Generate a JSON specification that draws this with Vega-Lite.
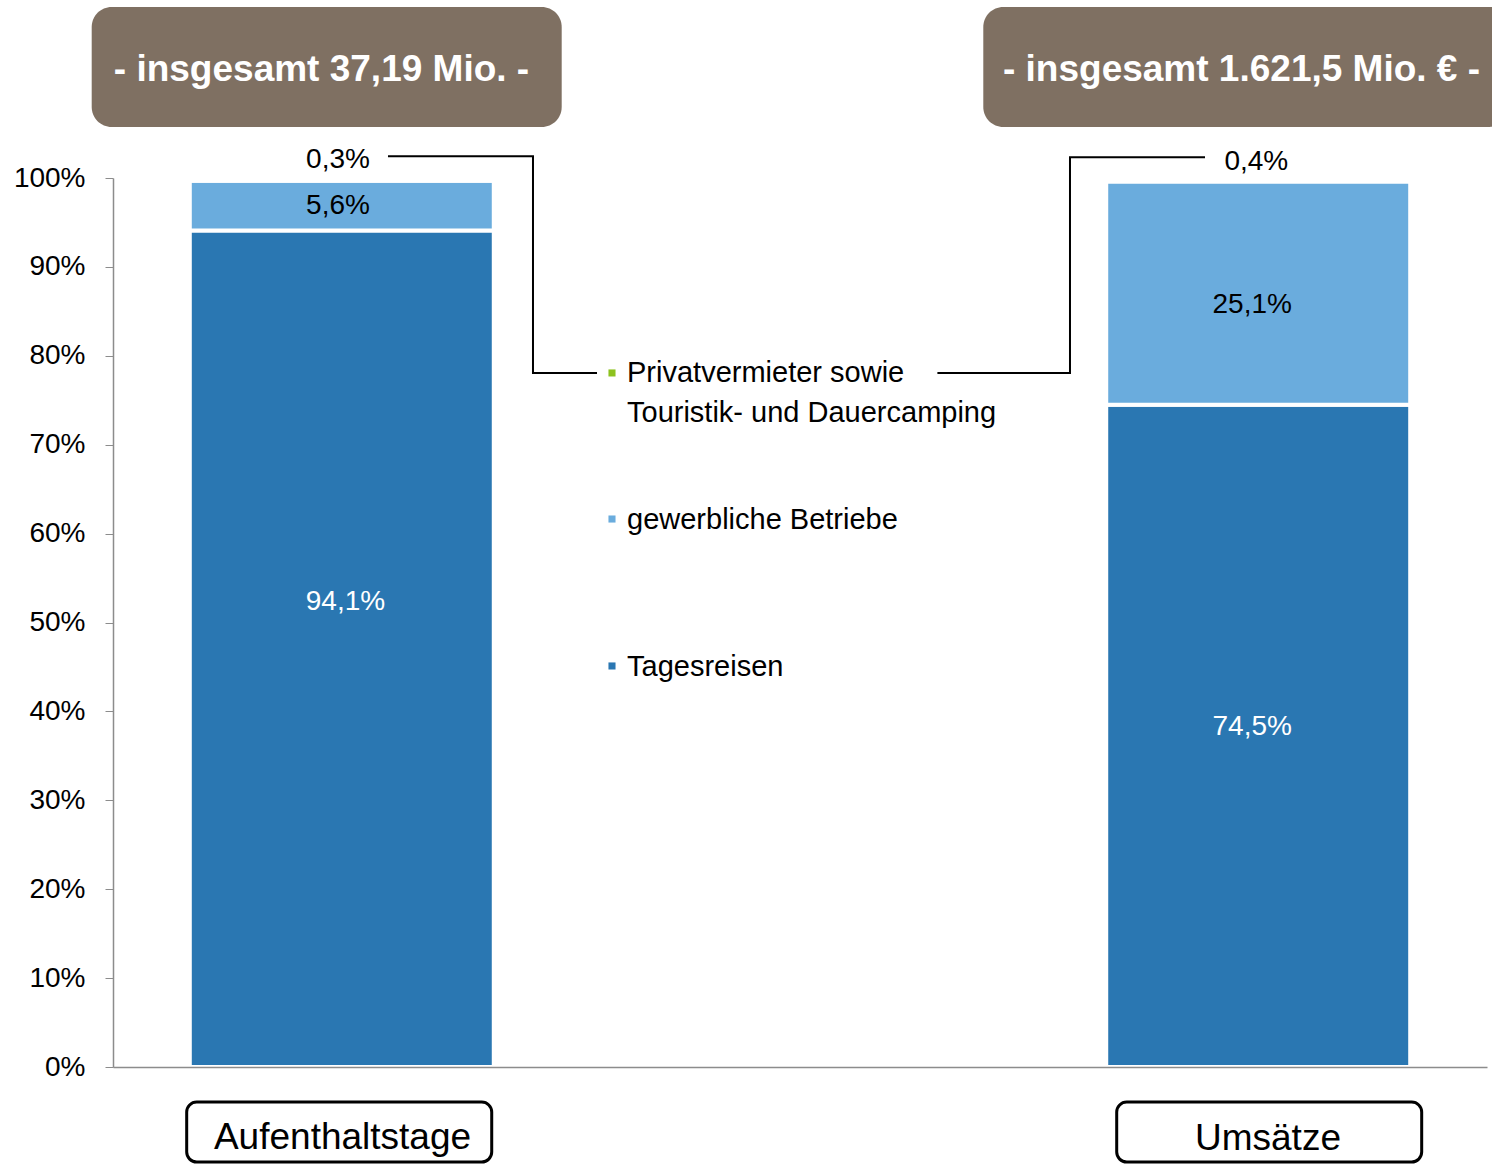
{
  "$schema": "https://vega.github.io/schema/vega-lite/v6.json",
  "width": 1374,
  "height": 889,
  "autosize": {"type": "none"},
  "padding": {"left": 113, "top": 178, "right": 5, "bottom": 97},
  "background": "white",
  "config": {
    "view": {"stroke": null},
    "font": "Liberation Sans",
    "text": {"font": "Liberation Sans"}
  },
  "datasets": {
    "anteile": [
      {"Kennzahl": "Aufenthaltstage", "Art": "Tagesreisen", "Rang": 1, "Anteil": 94.1},
      {"Kennzahl": "Aufenthaltstage", "Art": "gewerbliche Betriebe", "Rang": 2, "Anteil": 5.6},
      {"Kennzahl": "Aufenthaltstage", "Art": "Privatvermieter sowie Touristik- und Dauercamping", "Rang": 3, "Anteil": 0.3},
      {"Kennzahl": "Umsätze", "Art": "Tagesreisen", "Rang": 1, "Anteil": 74.5},
      {"Kennzahl": "Umsätze", "Art": "gewerbliche Betriebe", "Rang": 2, "Anteil": 25.1},
      {"Kennzahl": "Umsätze", "Art": "Privatvermieter sowie Touristik- und Dauercamping", "Rang": 3, "Anteil": 0.4}
    ],
    "werte": [
      {"Art": "Privatvermieter sowie Touristik- und Dauercamping", "Text": "0,3%", "x": 0.4913, "y": 101.09},
      {"Art": "gewerbliche Betriebe", "Text": "5,6%", "x": 0.4913, "y": 95.9},
      {"Art": "Tagesreisen", "Text": "94,1%", "x": 0.5076, "y": 51.45},
      {"Art": "Privatvermieter sowie Touristik- und Dauercamping", "Text": "0,4%", "x": 2.4963, "y": 100.9},
      {"Art": "gewerbliche Betriebe", "Text": "25,1%", "x": 2.4874, "y": 84.8},
      {"Art": "Tagesreisen", "Text": "74,5%", "x": 2.4874, "y": 37.4}
    ],
    "kopf": [
      {"Text": "- insgesamt 37,19 Mio. -", "x0": -0.0465, "x1": 0.9797, "y0": 105.74, "y1": 119.24, "tx": 0.4552, "ty": 110.9},
      {"Text": "- insgesamt 1.621,5 Mio. € -", "x0": 1.9002, "x1": 3.05, "y0": 105.74, "y1": 119.24, "tx": 2.464, "ty": 110.9}
    ],
    "fuss": [
      {"Text": "Aufenthaltstage", "x0": 0.1609, "x1": 0.8269, "y0": -10.69, "y1": -3.94, "tx": 0.5011, "ty": -9.25},
      {"Text": "Umsätze", "x0": 2.1915, "x1": 2.8574, "y0": -10.69, "y1": -3.94, "tx": 2.5218, "ty": -9.3}
    ],
    "linien": [
      {"Linie": "links", "Punkt": 1, "x": 0.6004, "y": 102.45},
      {"Linie": "links", "Punkt": 2, "x": 0.917, "y": 102.45},
      {"Linie": "links", "Punkt": 3, "x": 0.917, "y": 78.07},
      {"Linie": "links", "Punkt": 4, "x": 1.0568, "y": 78.07},
      {"Linie": "rechts", "Punkt": 1, "x": 2.3843, "y": 102.33},
      {"Linie": "rechts", "Punkt": 2, "x": 2.0895, "y": 102.33},
      {"Linie": "rechts", "Punkt": 3, "x": 2.0895, "y": 78.07},
      {"Linie": "rechts", "Punkt": 4, "x": 1.8, "y": 78.07}
    ],
    "legende": [
      {"Art": "Privatvermieter sowie Touristik- und Dauercamping", "Bezeichnung": "Privatvermieter sowie\nTouristik- und Dauercamping", "mx": 1.0895, "my": 78.07, "tx": 1.1223, "ty": 77.1},
      {"Art": "gewerbliche Betriebe", "Bezeichnung": "gewerbliche Betriebe", "mx": 1.0895, "my": 61.64, "tx": 1.1223, "ty": 60.5},
      {"Art": "Tagesreisen", "Bezeichnung": "Tagesreisen", "mx": 1.0895, "my": 45.11, "tx": 1.1223, "ty": 44.0}
    ]
  },
  "resolve": {"scale": {"x": "independent"}, "axis": {"x": "independent"}},
  "layer": [
    {
      "data": {"name": "anteile"},
      "mark": {"type": "bar", "stroke": "white", "strokeWidth": 4},
      "encoding": {
        "x": {
          "field": "Kennzahl", "type": "nominal",
          "sort": ["Aufenthaltstage", "Umsätze"],
          "scale": {"paddingInner": 0.6683, "paddingOuter": 0.0838},
          "axis": {"labels": false, "ticks": false, "title": null, "domainColor": "#8c8c8c", "domainWidth": 1.5, "zindex": 1}
        },
        "y": {
          "field": "Anteil", "type": "quantitative", "stack": "zero",
          "scale": {"domain": [0, 100], "nice": false},
          "axis": {
            "title": null, "grid": false,
            "values": [0, 10, 20, 30, 40, 50, 60, 70, 80, 90, 100],
            "labelExpr": "datum.value + '%'",
            "tickSize": 8, "tickColor": "#8c8c8c", "domainColor": "#8c8c8c", "domainWidth": 1.5,
            "labelFontSize": 28, "labelColor": "black", "labelPadding": 20,
            "labelFont": "Liberation Sans", "labelFlush": false, "labelOverlap": false, "zindex": 1
          }
        },
        "color": {
          "field": "Art", "type": "nominal",
          "scale": {
            "domain": ["Privatvermieter sowie Touristik- und Dauercamping", "gewerbliche Betriebe", "Tagesreisen"],
            "range": ["#8dc21f", "#6aacdd", "#2a77b2"]
          },
          "legend": null
        },
        "order": {"field": "Rang", "type": "quantitative"}
      }
    },
    {
      "layer": [
        {
          "data": {"name": "kopf"},
          "mark": {"type": "rect", "cornerRadius": 20, "fill": "#7f7062"},
          "encoding": {
            "x": {"field": "x0", "type": "quantitative", "scale": {"domain": [0, 3], "nice": false, "zero": false}, "axis": null},
            "x2": {"field": "x1"},
            "y": {"field": "y0", "type": "quantitative", "scale": {"domain": [0, 100], "nice": false}, "title": null},
            "y2": {"field": "y1"}
          }
        },
        {
          "data": {"name": "kopf"},
          "mark": {"type": "text", "font": "Liberation Sans", "fontWeight": "bold", "fontSize": 37, "fill": "white", "align": "center", "baseline": "alphabetic"},
          "encoding": {
            "x": {"field": "tx", "type": "quantitative", "axis": null},
            "y": {"field": "ty", "type": "quantitative", "title": null},
            "text": {"field": "Text"}
          }
        },
        {
          "data": {"name": "fuss"},
          "mark": {"type": "rect", "cornerRadius": 10, "fill": "white", "stroke": "black", "strokeWidth": 3},
          "encoding": {
            "x": {"field": "x0", "type": "quantitative", "axis": null},
            "x2": {"field": "x1"},
            "y": {"field": "y0", "type": "quantitative", "title": null},
            "y2": {"field": "y1"}
          }
        },
        {
          "data": {"name": "fuss"},
          "mark": {"type": "text", "font": "Liberation Sans", "fontSize": 37, "fill": "black", "align": "center", "baseline": "alphabetic"},
          "encoding": {
            "x": {"field": "tx", "type": "quantitative", "axis": null},
            "y": {"field": "ty", "type": "quantitative", "title": null},
            "text": {"field": "Text"}
          }
        },
        {
          "data": {"name": "werte"},
          "mark": {"type": "text", "font": "Liberation Sans", "fontSize": 28, "align": "center", "baseline": "alphabetic"},
          "encoding": {
            "x": {"field": "x", "type": "quantitative", "axis": null},
            "y": {"field": "y", "type": "quantitative", "title": null},
            "text": {"field": "Text"},
            "color": {"condition": {"test": "datum.Art === 'Tagesreisen'", "value": "white"}, "value": "black"}
          }
        },
        {
          "data": {"name": "linien"},
          "mark": {"type": "line", "stroke": "black", "strokeWidth": 2},
          "encoding": {
            "x": {"field": "x", "type": "quantitative", "axis": null},
            "y": {"field": "y", "type": "quantitative", "title": null},
            "detail": {"field": "Linie"},
            "order": {"field": "Punkt", "type": "quantitative"}
          }
        },
        {
          "data": {"name": "legende"},
          "mark": {"type": "point", "shape": "square", "filled": true, "size": 50, "opacity": 1},
          "encoding": {
            "x": {"field": "mx", "type": "quantitative", "axis": null},
            "y": {"field": "my", "type": "quantitative", "title": null},
            "color": {"field": "Art", "type": "nominal", "legend": null}
          }
        },
        {
          "data": {"name": "legende"},
          "mark": {"type": "text", "font": "Liberation Sans", "fontSize": 29, "fill": "black", "align": "left", "baseline": "alphabetic", "lineBreak": "\n", "lineHeight": 40},
          "encoding": {
            "x": {"field": "tx", "type": "quantitative", "axis": null},
            "y": {"field": "ty", "type": "quantitative", "title": null},
            "text": {"field": "Bezeichnung"}
          }
        }
      ]
    }
  ]
}
